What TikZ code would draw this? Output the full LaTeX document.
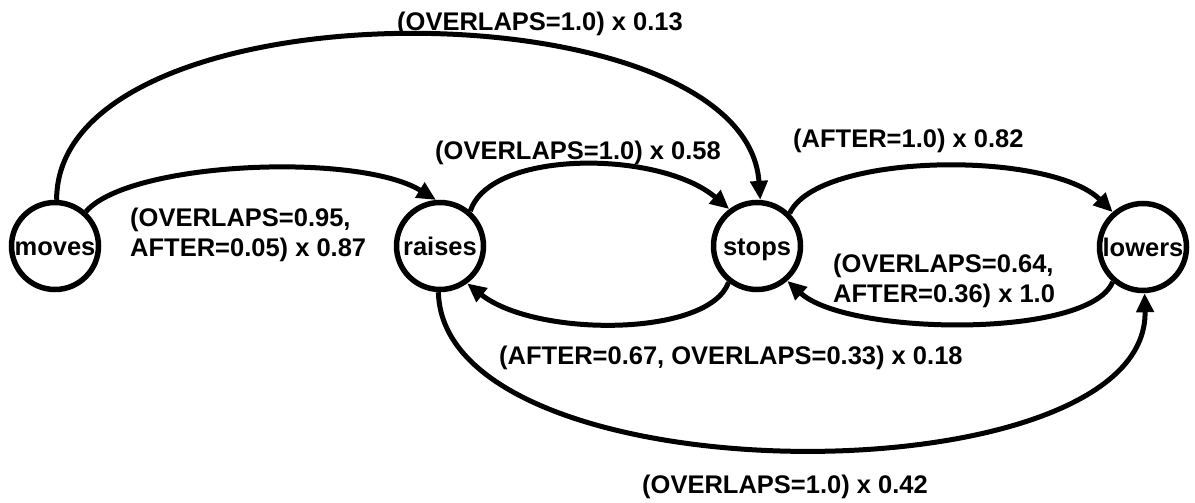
\documentclass[tikz,border=0pt]{standalone}
\usepackage{fontspec}
\setmainfont{Liberation Sans}
\usetikzlibrary{arrows.meta}
\tikzset{
  state/.style={circle, draw, line width=5.5pt, minimum size=87pt, inner sep=0pt,
    text height=18pt, text depth=0pt, font=\fontsize{25.5}{30}\selectfont\bfseries},
  trans/.style={line width=5pt, -{Triangle[length=19pt,width=17pt]}},
  lbl/.style={inner sep=0pt, font=\fontsize{25.5}{30}\selectfont\bfseries, align=left}
}
\begin{document}
\begin{tikzpicture}[x=1pt, y=-1pt]
\useasboundingbox (0,0) rectangle (1195,503);

% states
\node[state] (moves)  at (55,246)   {moves};
\node[state] (raises) at (440,246)  {raises};
\node[state] (stops)  at (757,246)  {stops};
\node[state] (lowers) at (1143,247) {lowers};

% transitions
\draw[trans] (moves.88) .. controls +(0,-220) and +(-15,-218) .. (stops.86);
\draw[trans] (moves.48) .. controls +(43,-50) and +(-78,-48) .. (raises.95);
\draw[trans] (raises.49) .. controls +(20,-62) and +(-69,-59) .. (stops.127);
\draw[trans] (stops.232) .. controls +(-20,55) and +(68,54) .. (raises.306);
\draw[trans] (stops.45) .. controls +(28,-61) and +(-63,-62) .. (lowers.131);
\draw[trans] (lowers.229) .. controls +(-23,57) and +(60,55) .. (stops.311);
\draw[trans] (raises.268) .. controls +(5,209) and +(5,208) .. (lowers.272);

% transition labels
\node[lbl, anchor=base west] (l1) at (397,31)  {(OVERLAPS=1.0) x 0.13};
\node[lbl, anchor=base west] (l2) at (435,159) {(OVERLAPS=1.0) x 0.58};
\node[lbl, anchor=base west] (l3) at (793,147) {(AFTER=1.0) x 0.82};
\node[lbl, anchor=west] (l4) at (130,235.4) {(OVERLAPS=0.95,\\AFTER=0.05) x 0.87};
\node[lbl, anchor=west] (l5) at (833,281.4) {(OVERLAPS=0.64,\\AFTER=0.36) x 1.0};
\node[lbl, anchor=base west] (l6) at (499,364) {(AFTER=0.67, OVERLAPS=0.33) x 0.18};
\node[lbl, anchor=base west] (l7) at (642,493) {(OVERLAPS=1.0) x 0.42};
\end{tikzpicture}
\end{document}
